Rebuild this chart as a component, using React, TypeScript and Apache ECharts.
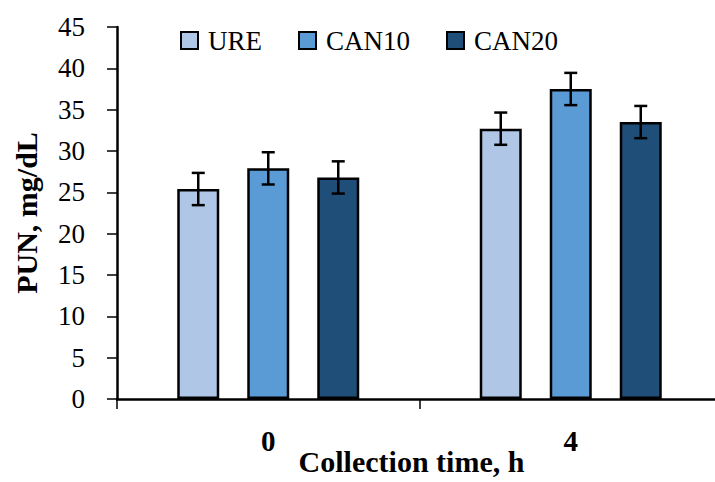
import React, { useEffect, useRef } from "react";
import * as echarts from "echarts";

const categories = ["0", "4"];
const seriesNames = ["URE", "CAN10", "CAN20"];
const ureValues = [25.4, 32.7];
const can10Values = [27.9, 37.5];
const can20Values = [26.8, 33.5];
const ureErr = [1.95, 1.95];
const can10Err = [1.95, 1.95];
const can20Err = [1.95, 1.95];
const yTicks = { min: 0, max: 45, interval: 5 };

const colors = ["#AFC6E6", "#5B9BD5", "#1F4E79"];
const FONT = "Liberation Serif";
const BAR_W = 42;
const BAR_GAP = 28;

export default function App() {
  const ref = useRef<HTMLDivElement>(null);
  useEffect(() => {
    if (!ref.current) return;
    const chart = echarts.init(ref.current, null, { renderer: "svg" });
    const values = [ureValues, can10Values, can20Values];
    const errs = [ureErr, can10Err, can20Err];
    const barSeries = seriesNames.map((name, i) => ({
      name,
      type: "bar",
      data: values[i],
      barWidth: BAR_W,
      barGap: (BAR_GAP / BAR_W) * 100 + "%",
      itemStyle: { color: colors[i], borderColor: "#000", borderWidth: 2.5 },
    }));
    const errSeries = seriesNames.map((name, i) => ({
      name: name + "_err",
      type: "custom",
      z: 10,
      data: values[i].map((v, j) => [j, v, errs[i][j]]),
      encode: { x: 0, y: 1 },
      renderItem: (params: any, api: any) => {
        const cat = api.value(0);
        const v = api.value(1);
        const e = api.value(2);
        const top = api.coord([cat, v + e]);
        const bot = api.coord([cat, v - e]);
        const x = top[0] + (i - 1) * (BAR_W + BAR_GAP);
        const cap = 6.5;
        const style = { stroke: "#000", lineWidth: 2.5 };
        return {
          type: "group",
          children: [
            { type: "line", shape: { x1: x, y1: top[1], x2: x, y2: bot[1] }, style },
            { type: "line", shape: { x1: x - cap, y1: top[1], x2: x + cap, y2: top[1] }, style },
            { type: "line", shape: { x1: x - cap, y1: bot[1], x2: x + cap, y2: bot[1] }, style },
          ],
        };
      },
    }));
    chart.setOption({
      animation: false,
      textStyle: { fontFamily: FONT, color: "#000" },
      grid: { left: 117, right: -7, top: 27, bottom: 83, containLabel: false, outerBoundsMode: "none" },
      legend: {
        data: seriesNames,
        icon: "rect",
        left: 175,
        top: 22,
        itemWidth: 17,
        itemHeight: 17,
        itemGap: 36,
        textStyle: { fontFamily: FONT, fontSize: 27, color: "#000", padding: [0, 0, 0, 5] },
      },
      xAxis: {
        type: "category",
        data: categories,
        name: "Collection time, h",
        nameLocation: "middle",
        nameGap: 47,
        nameMoveOverlap: false,
        nameTextStyle: { fontFamily: FONT, fontSize: 30, fontWeight: "bold", color: "#000", padding: [0, 16, 0, 0] },
        axisLine: { lineStyle: { color: "#000", width: 2.5 } },
        axisTick: { show: true, length: 10, lineStyle: { color: "#000", width: 1.5 } },
        axisLabel: { fontFamily: FONT, fontSize: 29, fontWeight: "bold", color: "#000", margin: 27 },
      },
      yAxis: {
        type: "value",
        min: yTicks.min,
        max: yTicks.max,
        interval: yTicks.interval,
        name: "PUN, mg/dL",
        nameLocation: "middle",
        nameGap: 76,
        nameMoveOverlap: false,
        nameTextStyle: { fontFamily: FONT, fontSize: 30, fontWeight: "bold", color: "#000" },
        splitLine: { show: false },
        axisLine: { show: true, lineStyle: { color: "#000", width: 2.5 } },
        axisTick: { show: true, length: 10, lineStyle: { color: "#000", width: 1.5 } },
        axisLabel: { fontFamily: FONT, fontSize: 27, color: "#000", margin: 32 },
      },
      series: [...barSeries, ...errSeries],
    });
    return () => chart.dispose();
  }, []);
  return (
    <div
      ref={ref}
      style={{ position: "absolute", left: 0, top: 0, width: 715, height: 482 }}
    />
  );
}
